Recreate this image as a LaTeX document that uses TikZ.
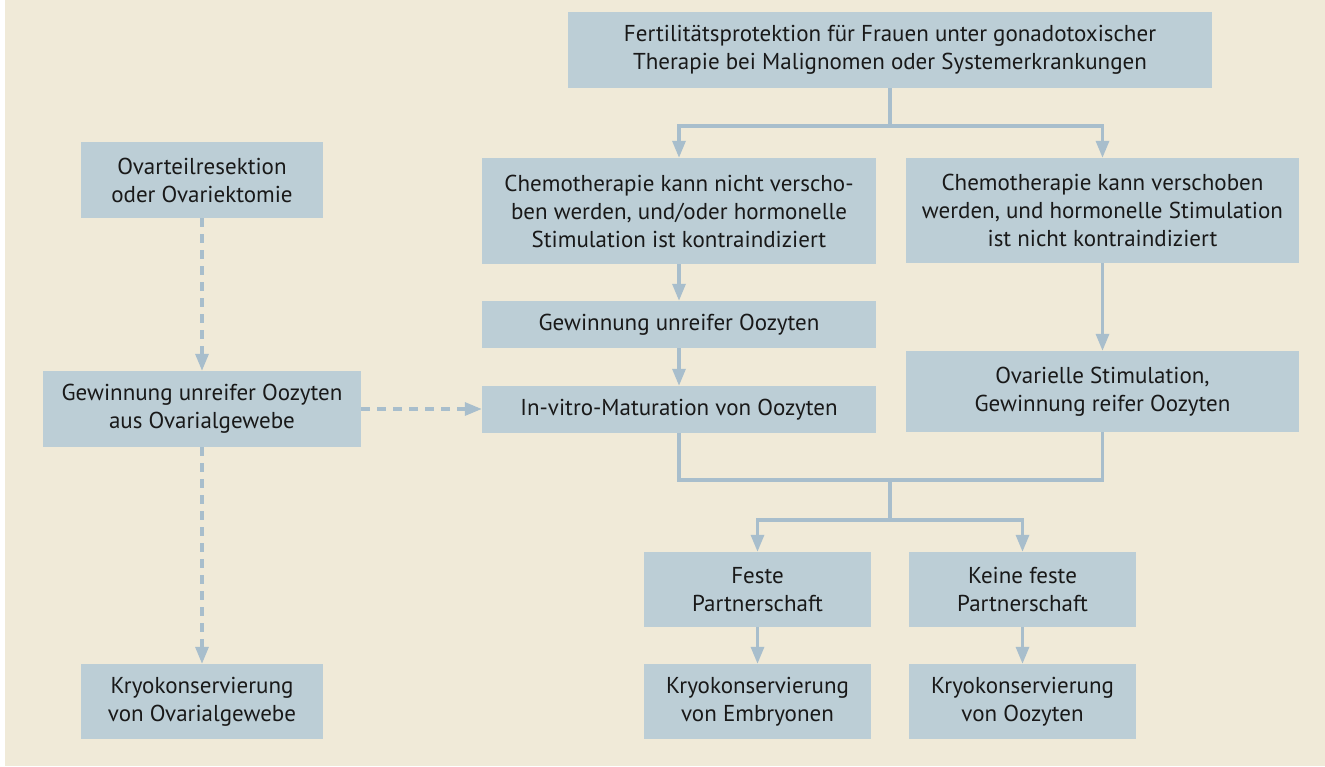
\documentclass[tikz,border=0pt]{standalone}
\usepackage{fontspec}
\setmainfont{PT Sans}
\usetikzlibrary{arrows.meta}
\definecolor{bg}{RGB}{240,234,216}
\definecolor{boxc}{RGB}{188,206,214}
\definecolor{linec}{RGB}{168,190,204}
\definecolor{txt}{RGB}{25,25,25}
\begin{document}
\begin{tikzpicture}[x=1pt,y=-1pt,
  box/.style={fill=boxc, inner sep=0pt, align=center, text=txt,
    font=\fontsize{23}{28}\selectfont},
  plain/.style={draw=linec, line width=3.2pt},
  conn/.style={plain, -{Triangle[width=13pt,length=17pt]}},
  dconn/.style={conn, dash pattern=on 9pt off 7pt}]
\useasboundingbox (0,0) rectangle (1325,766);
\fill[bg] (5,0) rectangle (1325,766);

\node[box, minimum width=644pt, minimum height=76pt] (top) at (890,50)
  {Fertilitätsprotektion für Frauen unter gonadotoxischer\\Therapie bei Malignomen oder Systemerkrankungen};

\node[box, minimum width=242pt, minimum height=76pt] (ovar) at (202,180)
  {Ovarteilresektion\\oder Ovariektomie};
\node[box, minimum width=318pt, minimum height=76pt] (gewL) at (202,409)
  {Gewinnung unreifer Oozyten\\aus Ovarialgewebe};
\node[box, minimum width=242pt, minimum height=75pt] (kryoL) at (202,701.5)
  {Kryokonservierung\\von Ovarialgewebe};

\node[box, minimum width=394pt, minimum height=106pt] (chemoA) at (679,211)
  {Chemotherapie kann nicht verscho-\\ben werden, und/oder hormonelle\\Stimulation ist kontraindiziert};
\node[box, minimum width=394pt, minimum height=47pt] (gewM) at (679,324.5)
  {Gewinnung unreifer Oozyten};
\node[box, minimum width=394pt, minimum height=47pt] (ivm) at (679,409.5)
  {In-vitro-Maturation von Oozyten};

\node[box, minimum width=393pt, minimum height=105pt] (chemoB) at (1102.5,210.5)
  {Chemotherapie kann verschoben\\werden, und hormonelle Stimulation\\ist nicht kontraindiziert};
\node[box, minimum width=393pt, minimum height=81pt] (ovstim) at (1102.5,391.5)
  {Ovarielle Stimulation,\\Gewinnung reifer Oozyten};

\node[box, minimum width=227pt, minimum height=75pt] (feste) at (757.5,589.5)
  {Feste\\Partnerschaft};
\node[box, minimum width=227pt, minimum height=75pt] (keine) at (1022.5,589.5)
  {Keine feste\\Partnerschaft};
\node[box, minimum width=227pt, minimum height=75pt] (kryoE) at (757.5,701.5)
  {Kryokonservierung\\von Embryonen};
\node[box, minimum width=227pt, minimum height=75pt] (kryoO) at (1022.5,701.5)
  {Kryokonservierung\\von Oozyten};

\coordinate (j1) at (890,126);
\coordinate (j2) at (890,480);
\coordinate (j3) at (890,520);

\draw[plain] (top.south) -- (j1);
\draw[conn] (j1) -| (chemoA.north);
\draw[conn] (j1) -| (chemoB.north);
\draw[conn] (chemoA.south) -- (gewM.north);
\draw[conn] (gewM.south) -- (ivm.north);
\draw[conn] (chemoB.south) -- (ovstim.north);
\draw[plain] (ivm.south) |- (j2) -| (ovstim.south);
\draw[plain] (j2) -- (j3);
\draw[conn] (j3) -| (feste.north);
\draw[conn] (j3) -| (keine.north);
\draw[conn] (feste.south) -- (kryoE.north);
\draw[conn] (keine.south) -- (kryoO.north);

\draw[dconn] (ovar.south) -- (gewL.north);
\draw[dconn] (gewL.south) -- (kryoL.north);
\draw[dconn] (gewL.east) -- (ivm.west |- gewL.east);
\end{tikzpicture}
\end{document}
